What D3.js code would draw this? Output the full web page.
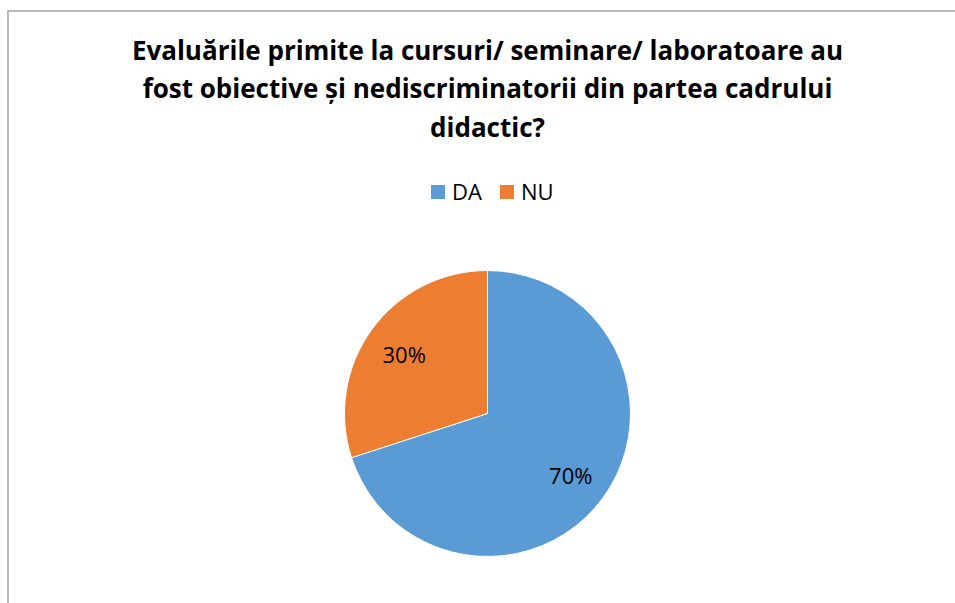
<!DOCTYPE html>
<html>
<head>
<meta charset="utf-8">
<script src="https://cdn.jsdelivr.net/npm/d3@7"></script>
<style>
  body { margin: 0; background: #fff; }
  text { font-family: "Open Sans", Lato, sans-serif; }
</style>
</head>
<body>
<svg width="955" height="603"></svg>
<script>
var categories = ["DA", "NU"];
var values = [70, 30];
var titleLines = ["Evaluările primite la cursuri/ seminare/ laboratoare au",
                  "fost obiective și nediscriminatorii din partea cadrului",
                  "didactic?"];

var width = 955, height = 603;
var cx = 487.5, cy = 413.5, radius = 143;

var color = d3.scaleOrdinal().domain(categories).range(["#5B9BD5", "#ED7D31"]);

var svg = d3.select("svg");

// chart border (only left + top visible in the crop)
svg.append("path")
    .attr("d", "M8," + height + " L8,11 L" + width + ",11")
    .style("fill", "none")
    .style("stroke", "#a6a6a6")
    .style("stroke-width", 1.5);

// title
svg.append("g").selectAll("text")
    .data(titleLines)
    .enter().append("text")
    .attr("x", cx)
    .attr("y", function(d, i) { return 59.5 + i * 38.5; })
    .style("text-anchor", "middle")
    .style("font-weight", "bold")
    .style("font-size", "26px")
    .style("fill", "#000")
    .text(function(d) { return d; });

// legend
var legend = svg.selectAll(".legend")
    .data(categories)
    .enter().append("g")
    .attr("class", "legend")
    .attr("transform", function(d, i) { return "translate(" + (431 + i * 69) + ",185)"; });

legend.append("rect")
    .attr("width", 14)
    .attr("height", 14)
    .style("fill", color);

legend.append("text")
    .attr("x", 21)
    .attr("y", 14.5)
    .style("font-size", "22px")
    .style("fill", "#000")
    .text(function(d) { return d; });

// pie
var pie = d3.pie().sort(null).value(function(d) { return d.v; });
var arcs = pie(categories.map(function(c, i) { return {c: c, v: values[i]}; }));

var arc = d3.arc().innerRadius(0).outerRadius(radius);
var labelArc = d3.arc().innerRadius(radius * 0.72).outerRadius(radius * 0.72);

var g = svg.append("g").attr("transform", "translate(" + cx + "," + cy + ")");

g.selectAll(".slice")
    .data(arcs)
    .enter().append("path")
    .attr("class", "slice")
    .attr("d", arc)
    .style("fill", function(d) { return color(d.data.c); })
    .style("stroke", "#fff")
    .style("stroke-width", 1);

g.selectAll(".lbl")
    .data(arcs)
    .enter().append("text")
    .attr("class", "lbl")
    .attr("transform", function(d) { var p = labelArc.centroid(d); return "translate(" + p[0] + "," + (p[1] + 2) + ")"; })
    .attr("dy", "0.35em")
    .style("text-anchor", "middle")
    .style("font-size", "22px")
    .style("fill", "#000")
    .text(function(d) { return d.data.v + "%"; });
</script>
</body>
</html>
